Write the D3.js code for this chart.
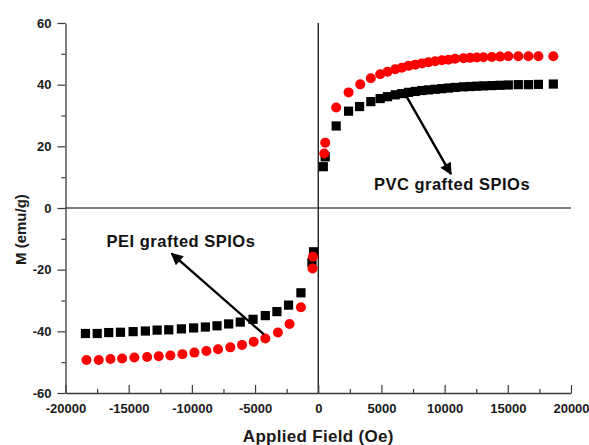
<!DOCTYPE html>
<html><head><meta charset="utf-8">
<script src="https://cdn.jsdelivr.net/npm/d3@7"></script>
<style>
body{margin:0;background:#fff;}
svg{display:block;font-family:"Liberation Sans",Arial,sans-serif;}
.tick text{font-weight:bold;font-size:13px;fill:#1a1a1a;}
</style></head>
<body>
<script>
// ---- data ----
const blackField = [-18420,-17490,-16580,-15650,-14650,-13680,-12750,-11830,-10830,-9860,-8930,-8010,-7090,-6170,-5160,-4190,-3270,-2350,-1370,-500,-370,
  400,550,1420,2400,3270,4160,4900,5480,6090,6610,7140,7670,8200,8720,9250,9780,10300,10830,11490,12020,12550,13070,13730,14390,15040,15830,16630,17420,18600];
const blackM = [-40.7,-40.7,-40.4,-40.3,-40.1,-39.9,-39.6,-39.5,-39.2,-38.9,-38.6,-38.2,-37.6,-37.0,-36.1,-34.9,-33.6,-31.5,-27.5,-17.7,-14.2,
  13.4,16.6,26.6,31.4,32.9,34.5,35.5,36.1,36.7,37.1,37.5,37.8,38.1,38.3,38.5,38.7,38.9,39.1,39.3,39.4,39.5,39.6,39.7,39.8,39.9,40.0,40.0,40.1,40.2];
const redField = [-18340,-17370,-16440,-15520,-14550,-13540,-12620,-11700,-10750,-9800,-8850,-7930,-6960,-6030,-5110,-4190,-3190,-2270,-1370,-450,-420,
  474,553,1420,2400,3320,4160,4900,5480,6090,6610,7140,7670,8200,8720,9250,9780,10300,10830,11490,12020,12550,13070,13730,14390,15040,15830,16630,17420,18600];
const redM = [-49.3,-49.3,-49.0,-48.8,-48.5,-48.3,-48.1,-47.8,-47.4,-46.9,-46.4,-45.8,-45.2,-44.4,-43.4,-42.3,-40.4,-37.6,-32.2,-19.6,-15.8,
  17.7,21.2,32.6,37.5,40.1,42.1,43.4,44.2,45.0,45.5,46.1,46.5,46.9,47.3,47.6,47.9,48.1,48.4,48.6,48.7,48.8,48.9,49.0,49.1,49.2,49.2,49.2,49.2,49.2];
const xTicks = [-20000,-15000,-10000,-5000,0,5000,10000,15000,20000];
const xMinor = [-17500,-12500,-7500,-2500,2500,7500,12500,17500];
const yTicks = [-60,-40,-20,0,20,40,60];
const yMinor = [-50,-30,-10,10,30,50];
const annotations = [
  {text:"PVC grafted SPIOs", tx:452, ty:190, from:[6800,37.5], to:[10500,11]},
  {text:"PEI grafted SPIOs", tx:181, ty:247, from:[-4300,-41], to:[-11600,-14.8]}
];

// ---- chart ----
const W=589,H=445;
const svg=d3.select("body").append("svg").attr("width",W).attr("height",H);
const x=d3.scaleLinear().domain([-20000,20000]).range([65.5,571]);
const y=d3.scaleLinear().domain([-60,60]).range([393,23]);

const axisColor="#3a3a3a";
const fmt=d=>String(d);

// zero lines
svg.append("line").attr("x1",x(-20000)).attr("x2",x(20000)).attr("y1",y(0)).attr("y2",y(0))
  .attr("stroke","#555").attr("stroke-width",1.3);
svg.append("line").attr("x1",x(0)).attr("x2",x(0)).attr("y1",y(60)).attr("y2",y(-60))
  .attr("stroke","#111").attr("stroke-width",1.3);

// x axis
const gx=svg.append("g").attr("transform",`translate(0,${y(-60)})`)
  .call(d3.axisBottom(x).tickValues(xTicks).tickSizeInner(-8).tickSizeOuter(0).tickPadding(11).tickFormat(fmt));
svg.append("g").attr("transform",`translate(0,${y(-60)})`)
  .call(d3.axisBottom(x).tickValues(xMinor).tickSizeInner(-4).tickSizeOuter(0).tickFormat(""))
  .call(g=>g.select(".domain").remove());
// y axis
const gy=svg.append("g").attr("transform",`translate(${x(-20000)},0)`)
  .call(d3.axisLeft(y).tickValues(yTicks).tickSizeInner(8).tickSizeOuter(0).tickPadding(6).tickFormat(fmt));
svg.append("g").attr("transform",`translate(${x(-20000)},0)`)
  .call(d3.axisLeft(y).tickValues(yMinor).tickSizeInner(4).tickSizeOuter(0).tickFormat(""))
  .call(g=>g.select(".domain").remove());
svg.selectAll(".domain").attr("stroke",axisColor).attr("stroke-width",1.3);
svg.selectAll(".tick line").attr("stroke",axisColor).attr("stroke-width",1.2);
gx.selectAll(".tick text").attr("fill","#1a1a1a");
gy.selectAll(".tick text").attr("fill","#1a1a1a");

// axis titles
svg.append("text").attr("x",x(0)).attr("y",442).attr("text-anchor","middle")
  .attr("font-weight","bold").attr("font-size","17px").attr("letter-spacing","0.3px").attr("fill","#1a1a1a").text("Applied Field (Oe)");
svg.append("text").attr("transform",`translate(26,${y(-7)}) rotate(-90)`).attr("text-anchor","middle")
  .attr("font-weight","bold").attr("font-size","15px").attr("fill","#1a1a1a").text("M (emu/g)");

// data
const blackData=blackField.map((f,i)=>({f,m:blackM[i]}));
const redData=redField.map((f,i)=>({f,m:redM[i]}));
const sq=9.2;
svg.append("g").selectAll("rect").data(blackData).join("rect")
  .attr("x",d=>x(d.f)-sq/2).attr("y",d=>y(d.m)-sq/2).attr("width",sq).attr("height",sq).attr("fill","#000");
svg.append("g").selectAll("circle").data(redData).join("circle")
  .attr("cx",d=>x(d.f)).attr("cy",d=>y(d.m)).attr("r",5).attr("fill","#ff0000");

// arrows
const defs=svg.append("defs");
defs.append("marker").attr("id","ah").attr("viewBox","0 0 10 10").attr("refX",9).attr("refY",5)
  .attr("markerWidth",5.5).attr("markerHeight",5).attr("orient","auto").attr("markerUnits","strokeWidth")
  .append("path").attr("d","M0,0 L10,5 L0,10 Z").attr("fill","#000");
annotations.forEach(a=>{
  svg.append("line").attr("x1",x(a.from[0])).attr("y1",y(a.from[1])).attr("x2",x(a.to[0])).attr("y2",y(a.to[1]))
    .attr("stroke","#000").attr("stroke-width",2.4).attr("marker-end","url(#ah)");
  svg.append("text").attr("x",a.tx).attr("y",a.ty).attr("text-anchor","middle")
    .attr("font-weight","bold").attr("font-size","16.5px").attr("letter-spacing","0.5px").attr("fill","#111").text(a.text);
});
</script>
</body></html>
